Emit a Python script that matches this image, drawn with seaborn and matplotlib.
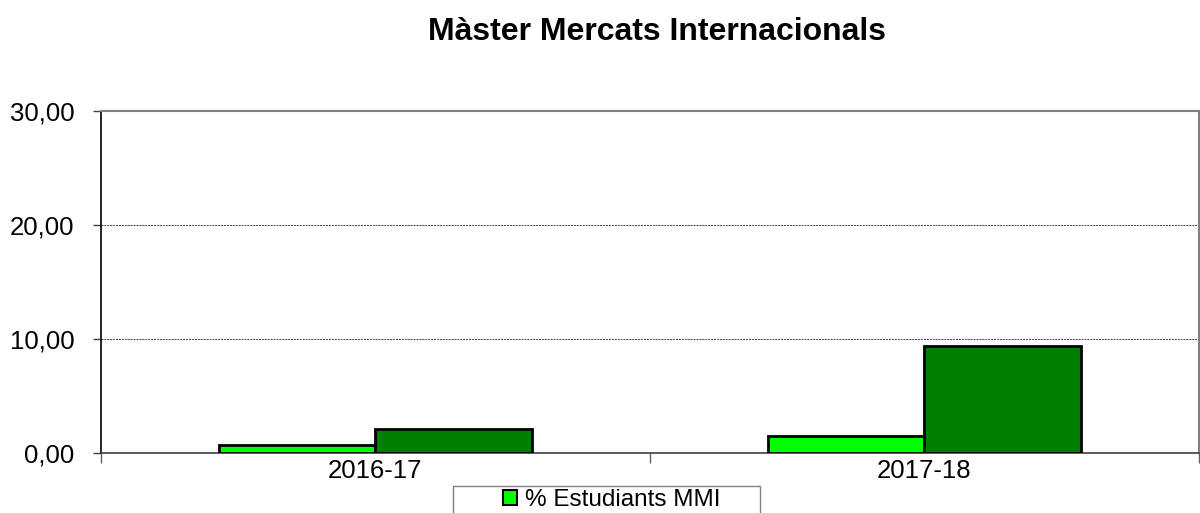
import matplotlib
matplotlib.use("Agg")
import matplotlib.pyplot as plt
from matplotlib.patches import Patch, Rectangle
from matplotlib.ticker import FuncFormatter, FixedLocator
import pandas as pd
import seaborn as sns

# values
years = ["2016-17", "2017-18"]
series = ["% Estudiants MMI", "% Estudiants (2)"]
mmi_values = [0.7, 1.5]
other_values = [2.1, 9.4]
colors = ["#00FF00", "#008000"]
y_ticks = [0, 10, 20, 30]

df = pd.DataFrame({
    "year": years * 2,
    "series": [series[0]] * len(years) + [series[1]] * len(years),
    "value": mmi_values + other_values,
})

sns.set_theme(style="white")
plt.rcParams["font.family"] = ["Liberation Sans", "DejaVu Sans"]
plt.rcParams["text.color"] = "black"
plt.rcParams["xtick.labelcolor"] = "black"
plt.rcParams["ytick.labelcolor"] = "black"

fig = plt.figure(figsize=(12, 5.13), dpi=100)
ax = fig.add_axes([101 / 1200, 1 - 453 / 513, 1 - 101 / 1200 - 0.001, (453 - 111) / 513])

sns.barplot(data=df, x="year", y="value", hue="series", hue_order=series,
            palette=colors, width=0.57, gap=0, edgecolor="black", linewidth=2,
            saturation=1, legend=False, ax=ax, zorder=3)

ax.set_xlim(-0.5, 1.5)
ax.set_ylim(0, 30)
ax.set_xlabel("")
ax.set_ylabel("")

ax.yaxis.set_major_locator(FixedLocator(y_ticks))
ax.yaxis.set_major_formatter(FuncFormatter(lambda v, p: f"{v:.2f}".replace(".", ",")))
ax.tick_params(axis="y", labelsize=18.5, length=6, width=1, color="#404040",
               direction="out", pad=13, left=True)
ax.tick_params(axis="x", which="major", labelsize=18.5, length=0, pad=4)
ax.xaxis.set_minor_locator(FixedLocator([-0.5, 0.5, 1.5]))
ax.tick_params(axis="x", which="minor", length=7, width=1, color="#606060",
               direction="out", bottom=True)

ax.yaxis.grid(True, color="#404040", linestyle=(0, (2, 1)), linewidth=0.7, zorder=0)
ax.xaxis.grid(False)

ax.spines["left"].set_color("black")
ax.spines["left"].set_linewidth(1.2)
ax.spines["bottom"].set_color("#404040")
ax.spines["bottom"].set_linewidth(1.2)
ax.spines["top"].set_color("#808080")
ax.spines["top"].set_linewidth(1.5)
ax.spines["right"].set_color("#808080")
ax.spines["right"].set_linewidth(1.5)

fig.text(657 / 1200, 1 - 32 / 513, "Màster Mercats Internacionals",
         ha="center", va="center", fontsize=23, fontweight="bold", color="black")

# legend box runs past the bottom edge, as in the reference
fig.patches.append(Rectangle((453 / 1200, 1 - 540 / 513), 307 / 1200, 54 / 513,
                             transform=fig.transFigure, facecolor="white",
                             edgecolor="#808080", linewidth=1, zorder=1))
handles = [Patch(facecolor=colors[0], edgecolor="black", linewidth=1.5, label=series[0])]
fig.legend(handles=handles, loc="center", bbox_to_anchor=(612 / 1200, 1 - 500 / 513),
           frameon=False, fontsize=17.5, handlelength=0.55, handleheight=0.55,
           handletextpad=0.35, borderpad=0, borderaxespad=0)

fig.savefig("out.png", dpi=100)
